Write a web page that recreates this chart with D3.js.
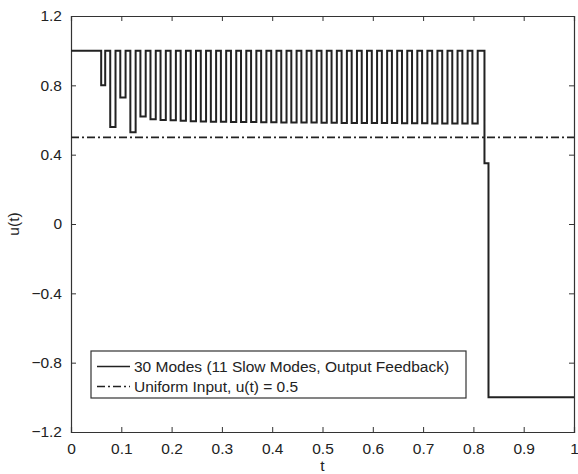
<html>
<head>
<meta charset="UTF-8">
<title>u(t)</title>
<style>
  body { margin: 0; background: #fff; }
  text { font-family: "Liberation Sans", Arial, sans-serif; fill: #222; }
</style>
</head>
<body>
<script src="https://d3js.org/d3.v7.min.js"></script>
<div id="chart"></div>
<script>
// switching control: times where u dips, the level of each dip, and when it comes back up to 1
var dipStart = [0.060, 0.078, 0.098, 0.118, 0.138, 0.158, 0.178, 0.198, 0.218, 0.238,
                0.258, 0.278, 0.298, 0.318, 0.338, 0.358, 0.378, 0.398, 0.418, 0.438,
                0.458, 0.478, 0.498, 0.518, 0.538, 0.558, 0.578, 0.598, 0.618, 0.638,
                0.658, 0.678, 0.698, 0.718, 0.738, 0.758, 0.778, 0.798];
var dipEnd   = [0.068, 0.0885, 0.1085, 0.1285, 0.1485, 0.1685, 0.1885, 0.2085, 0.2285, 0.2485,
                0.2685, 0.2885, 0.3085, 0.3285, 0.3485, 0.3685, 0.3885, 0.4085, 0.4285, 0.4485,
                0.4685, 0.4885, 0.5085, 0.5285, 0.5485, 0.5685, 0.5885, 0.6085, 0.6285, 0.6485,
                0.6685, 0.6885, 0.7085, 0.7285, 0.7485, 0.7685, 0.7885, 0.8085];
var dipLevel = [0.80, 0.56, 0.73, 0.53, 0.62, 0.605, 0.60, 0.598, 0.595, 0.593,
                0.592, 0.59, 0.59, 0.589, 0.588, 0.588, 0.587, 0.587, 0.586, 0.586,
                0.585, 0.585, 0.584, 0.584, 0.583, 0.583, 0.583, 0.582, 0.582, 0.582,
                0.581, 0.581, 0.581, 0.58, 0.58, 0.58, 0.58, 0.58];
var highLevel = 1.0;
// tail of the control after the last pulse
var tailT = [0.822, 0.830, 1.0];
var tailU = [0.35, -1.0, -1.0];
var uniformU = 0.5;

var xTicks = [0, 0.1, 0.2, 0.3, 0.4, 0.5, 0.6, 0.7, 0.8, 0.9, 1];
var yTicks = [-1.2, -0.8, -0.4, 0, 0.4, 0.8, 1.2];
var legendLabels = ["30 Modes (11 Slow Modes, Output Feedback)", "Uniform Input, u(t) = 0.5"];

var W = 578, H = 474;
var margin = {top: 16, right: 4, bottom: 42, left: 71};
var width = W - margin.left - margin.right,
    height = H - margin.top - margin.bottom;

var svg = d3.select("#chart").append("svg")
    .attr("width", W).attr("height", H);
var g = svg.append("g")
    .attr("transform", `translate(${margin.left},${margin.top})`);

var x = d3.scaleLinear().domain([0, 1]).range([0, width]);
var y = d3.scaleLinear().domain([-1.2, 1.2]).range([height, 0]);

function fmt(v) {
    if (v === 0) return "0";
    if (v === 1) return "1";
    var s = d3.format(".1f")(Math.abs(v));
    return (v < 0 ? "\u2212" : "") + s;
}

// axes with inward ticks on all four sides
var axisColor = "#333";
var xb = g.append("g").attr("transform", `translate(0,${height})`)
    .call(d3.axisBottom(x).tickValues(xTicks).tickSize(-5).tickPadding(11).tickFormat(fmt));
var xt = g.append("g")
    .call(d3.axisTop(x).tickValues(xTicks).tickSize(-5).tickFormat(""));
var yl = g.append("g")
    .call(d3.axisLeft(y).tickValues(yTicks).tickSize(-5).tickPadding(9).tickFormat(fmt));
var yr = g.append("g").attr("transform", `translate(${width},0)`)
    .call(d3.axisRight(y).tickValues(yTicks).tickSize(-5).tickFormat(""));

[xb, xt, yl, yr].forEach(function(a) {
    a.select(".domain").attr("stroke", axisColor).attr("stroke-width", 1.2);
    a.selectAll(".tick line").attr("stroke", axisColor).attr("stroke-width", 1);
    a.selectAll(".tick text").style("font-size", "15.5px").attr("fill", "#222")
        .style("font-family", "'Liberation Sans', Arial, sans-serif");
});

// build step series from the arrays
var pts = [[0, highLevel]];
dipStart.forEach(function(t, i) {
    pts.push([t, dipLevel[i]]);
    pts.push([dipEnd[i], highLevel]);
});
tailT.forEach(function(t, i) { pts.push([t, tailU[i]]); });

var line = d3.line()
    .x(function(d) { return x(d[0]); })
    .y(function(d) { return y(d[1]); })
    .curve(d3.curveStepAfter);

g.append("path")
    .datum([[0, uniformU], [1, uniformU]])
    .attr("d", line)
    .attr("fill", "none")
    .attr("stroke", "#222")
    .attr("stroke-width", 1.7)
    .attr("stroke-dasharray", "8,3,2,3");

g.append("path")
    .datum(pts)
    .attr("d", line)
    .attr("fill", "none")
    .attr("stroke", "#222")
    .attr("stroke-width", 2)
    .attr("stroke-linejoin", "miter");

// legend
var lg = svg.append("g").attr("transform", "translate(91,351)");
lg.append("rect")
    .attr("width", 375).attr("height", 47)
    .attr("fill", "#fff").attr("stroke", "#333").attr("stroke-width", 1.2);
var rows = lg.selectAll(".row").data(legendLabels).enter().append("g")
    .attr("transform", function(d, i) { return `translate(0,${15.5 + i * 20})`; });
rows.append("line")
    .attr("x1", 6).attr("x2", 39)
    .attr("stroke", "#222").attr("stroke-width", 1.7)
    .attr("stroke-dasharray", function(d, i) { return i ? "8,3,2,3" : null; });
rows.append("text")
    .attr("x", 43).attr("dy", "0.35em")
    .style("font-size", "15.5px")
    .text(function(d) { return d; });

// axis titles
svg.append("text")
    .attr("x", margin.left + width / 2).attr("y", 471)
    .attr("text-anchor", "middle").style("font-size", "15.5px").text("t");
svg.append("text")
    .attr("transform", `translate(19,${margin.top + height / 2}) rotate(-90)`)
    .attr("text-anchor", "middle").style("font-size", "15.5px").text("u(t)");
</script>
</body>
</html>
